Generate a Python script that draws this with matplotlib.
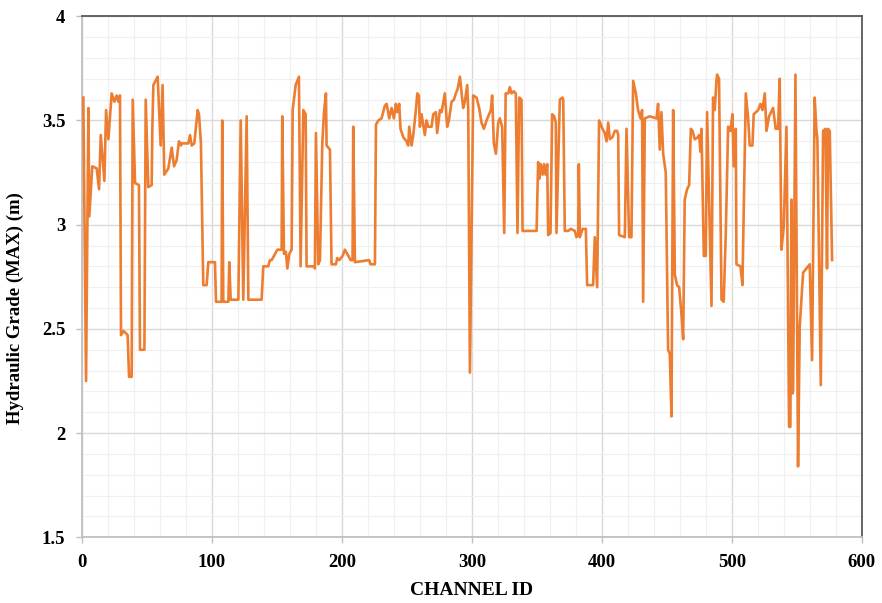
import numpy as np
import matplotlib.pyplot as plt
from matplotlib.ticker import MultipleLocator

# channel ids 1-107
ch_a = [1, 3.1, 4.9, 5.6, 7.9, 11.3, 13.1, 14.4, 17.2, 18.5,
        20.3, 22.8, 24.9, 26.7, 28, 29.2, 30, 32, 35.1, 36.2,
        38.2, 39, 40.8, 43.8, 44.6, 48, 49, 51, 53.6, 54.1,
        54.9, 58.2, 60.5, 62, 63.3, 66.4, 69, 70.8, 72.8, 74.6,
        76.2, 76.7, 81.8, 83.1, 84.4, 86.4, 89, 90, 91.5, 93.3,
        95.9, 97.2, 102.3, 103.1, 107.4]
hg_a = [3.61, 2.25, 3.56, 3.04, 3.28, 3.27, 3.17, 3.43, 3.21, 3.55,
        3.41, 3.63, 3.59, 3.62, 3.59, 3.62, 2.47, 2.49, 2.47, 2.27,
        2.27, 3.60, 3.20, 3.19, 2.40, 2.40, 3.60, 3.18, 3.19, 3.46,
        3.67, 3.71, 3.38, 3.67, 3.24, 3.27, 3.37, 3.28, 3.31, 3.40,
        3.38, 3.39, 3.39, 3.43, 3.38, 3.39, 3.55, 3.53, 3.39, 2.71,
        2.71, 2.82, 2.82, 2.63, 2.63]

# channel ids 108-225
ch_b = [107.9, 108.7, 112.6, 113.3, 114.4, 120.3, 122.1, 124.1, 126.7, 128,
        138.2, 139.5, 143.3, 144.6, 145.9, 147.7, 150.3, 153.6, 154.1, 155.4,
        156.9, 158, 159.5, 161.3, 162.1, 164.4, 166.9, 168.2, 170.3, 172.1,
        172.8, 178.5, 179.2, 180, 181.8, 183.1, 184.9, 186.2, 187.7, 188.2,
        190.8, 192, 195.4, 196.4, 198, 200.5, 202.3, 204.1, 206.7, 208.2,
        208.7, 210, 221, 222, 225.4]
hg_b = [3.50, 2.63, 2.63, 2.82, 2.64, 2.64, 3.50, 2.64, 3.52, 2.64,
        2.64, 2.80, 2.80, 2.83, 2.83, 2.85, 2.88, 2.88, 3.52, 2.86,
        2.87, 2.79, 2.86, 2.88, 3.55, 3.67, 3.71, 2.80, 3.55, 3.53,
        2.80, 2.80, 2.79, 3.44, 2.81, 2.83, 3.39, 3.54, 3.63, 3.38,
        3.36, 2.81, 2.81, 2.84, 2.83, 2.85, 2.88, 2.86, 2.83, 2.83,
        3.47, 2.82, 2.83, 2.81, 2.81]

# channel ids 226-305
ch_c = [226.2, 228, 230.5, 233, 234.4, 236.4, 238.2, 240, 241.5, 242.6,
        244.1, 245.1, 247.2, 249.7, 251, 251.8, 253.6, 254.9, 256.9, 258,
        259.2, 260, 261.3, 263.8, 265.1, 266.4, 269, 270.3, 272.3, 273.3,
        275.4, 276.7, 279.2, 281, 282.3, 284.4, 286.2, 287.7, 289, 290.8,
        293.3, 294.6, 296.4, 297.2, 298.5, 301, 303.6, 305.6]
hg_c = [3.48, 3.50, 3.51, 3.57, 3.58, 3.51, 3.56, 3.51, 3.58, 3.54,
        3.58, 3.46, 3.42, 3.40, 3.38, 3.47, 3.38, 3.43, 3.55, 3.63,
        3.62, 3.47, 3.53, 3.43, 3.50, 3.47, 3.47, 3.53, 3.54, 3.44,
        3.55, 3.54, 3.63, 3.47, 3.50, 3.59, 3.60, 3.63, 3.65, 3.71,
        3.56, 3.59, 3.67, 3.55, 2.29, 3.62, 3.61, 3.56]

# channel ids 306-405
ch_d = [307.4, 309.2, 311.3, 313.3, 314.6, 315.6, 316.9, 318.5, 320.3, 321.5,
        323.3, 324.9, 326, 328, 329.2, 330.5, 332.3, 333.8, 335.1, 336.4,
        338.2, 339, 349.8, 351, 351.8, 353.1, 354.4, 355.6, 356.7, 358,
        358.7, 360.5, 361.8, 363.3, 364.6, 365.1, 367.7, 369.7, 370.3, 371.5,
        374.1, 376.2, 379.2, 380.5, 381.8, 382.3, 383.1, 385.2, 387.7, 388.7,
        393.3, 394.6, 396.4, 397.9, 400.5, 402.3, 403.6, 404.9]
hg_d = [3.49, 3.46, 3.50, 3.53, 3.55, 3.62, 3.39, 3.34, 3.49, 3.51,
        3.47, 2.96, 3.63, 3.63, 3.66, 3.63, 3.64, 3.63, 2.96, 3.61,
        3.60, 2.97, 2.97, 3.30, 3.22, 3.29, 3.24, 3.29, 3.24, 3.29,
        2.95, 2.96, 3.53, 3.52, 3.49, 2.96, 3.60, 3.61, 3.60, 2.97,
        2.97, 2.98, 2.97, 2.94, 2.95, 3.29, 2.94, 2.98, 2.98, 2.71,
        2.71, 2.94, 2.70, 3.50, 3.46, 3.44, 3.40, 3.49]

# channel ids 406-510
ch_e = [406.2, 408.2, 410, 411.8, 412.6, 413.3, 417.7, 419, 421, 422.8,
        424.1, 426.2, 427.9, 429.8, 431, 431.8, 433.1, 436.9, 442.1, 443.3,
        444.6, 445.9, 447.2, 449.2, 451, 452.3, 453.6, 454.9, 456.2, 457.9,
        459.5, 461.3, 462.6, 463.8, 465.6, 467.2, 468.5, 469.8, 471.5, 474.1,
        474.9, 475.9, 476.7, 478.5, 480, 481, 484.4, 485.6, 486.9, 488.2,
        488.7, 490.2, 492.1, 493.8, 495.4, 497.2, 499, 500.5, 501.5, 503.1,
        503.6, 506.7, 508.2]
hg_e = [3.41, 3.42, 3.45, 3.45, 3.43, 2.95, 2.94, 3.46, 2.94, 2.94,
        3.69, 3.63, 3.55, 3.51, 3.55, 2.63, 3.51, 3.52, 3.51, 3.58,
        3.36, 3.54, 3.34, 3.25, 2.40, 2.38, 2.08, 3.55, 2.76, 2.71,
        2.70, 2.57, 2.45, 3.12, 3.17, 3.19, 3.46, 3.45, 3.41, 3.42,
        3.43, 3.35, 3.46, 2.85, 2.85, 3.54, 2.61, 3.61, 3.55, 3.69,
        3.72, 3.70, 2.64, 2.63, 2.96, 3.47, 3.45, 3.53, 3.28, 3.46,
        2.81, 2.80, 2.71]

# channel ids 511-577
ch_f = [510.8, 512.6, 513.8, 515.9, 516.9, 520.3, 522.1, 523.6, 525.4, 526.7,
        528.7, 531.8, 533.8, 535.6, 536.9, 538.2, 540, 542.1, 544.1, 545.1,
        545.9, 546.7, 547.2, 549, 551, 552.3, 554.9, 557.4, 560, 561.8,
        563.8, 565.1, 565.9, 568.5, 570.3, 572.1, 573.3, 574.1, 575.4, 577.2]
hg_f = [3.63, 3.51, 3.38, 3.38, 3.53, 3.55, 3.58, 3.55, 3.63, 3.45,
        3.52, 3.56, 3.46, 3.46, 3.70, 2.88, 2.99, 3.47, 2.03, 2.03,
        3.12, 2.19, 2.20, 3.72, 1.84, 2.51, 2.77, 2.79, 2.81, 2.35,
        3.61, 3.46, 3.41, 2.23, 3.45, 3.46, 2.79, 3.46, 3.45, 2.83]

channel_id = np.concatenate([ch_a, ch_b, ch_c, ch_d, ch_e, ch_f])
hg_max = np.concatenate([hg_a, hg_b, hg_c, hg_d, hg_e, hg_f])

plt.rcParams['font.family'] = ['Liberation Serif', 'DejaVu Serif']

fig = plt.figure(figsize=(8.82, 6.03), dpi=100)
ax = fig.add_axes([0.093, 0.109, 0.884, 0.864])

ax.plot(channel_id, hg_max, color='#ED7D31', lw=1.9, solid_joinstyle='round', zorder=3)

ax.set_xlim(0, 600)
ax.set_ylim(1.5, 4)
ax.xaxis.set_major_locator(MultipleLocator(100))
ax.xaxis.set_minor_locator(MultipleLocator(20))
ax.yaxis.set_major_locator(MultipleLocator(0.5))
ax.yaxis.set_minor_locator(MultipleLocator(0.1))
ax.set_yticks([1.5, 2, 2.5, 3, 3.5, 4])
ax.set_yticklabels(['1.5', '2', '2.5', '3', '3.5', '4'])

ax.grid(which='major', color='#d9d9d9', lw=1.0, zorder=0)
ax.grid(which='minor', color='#f0f0f0', lw=0.9, zorder=0)
ax.set_axisbelow(True)

ax.tick_params(which='major', length=4, width=1, color='#bfbfbf', pad=8,
               labelsize=13.5)
ax.tick_params(which='minor', length=0)
for lab in ax.get_xticklabels() + ax.get_yticklabels():
    lab.set_fontweight('bold')

ax.spines['left'].set_color('#bfbfbf')
ax.spines['bottom'].set_color('#bfbfbf')
ax.spines['top'].set_color('#595959')
ax.spines['right'].set_color('#595959')
for s in ax.spines.values():
    s.set_linewidth(1.3)

ax.set_xlabel('CHANNEL ID', fontsize=14, fontweight='bold', va='center')
ax.xaxis.set_label_coords(0.5, -0.102)
ax.set_ylabel('Hydraulic Grade (MAX) (m)', fontsize=13.5, fontweight='bold', va='center')
ax.yaxis.set_label_coords(-0.085, 0.44)

fig.savefig('out.png', dpi=100)
